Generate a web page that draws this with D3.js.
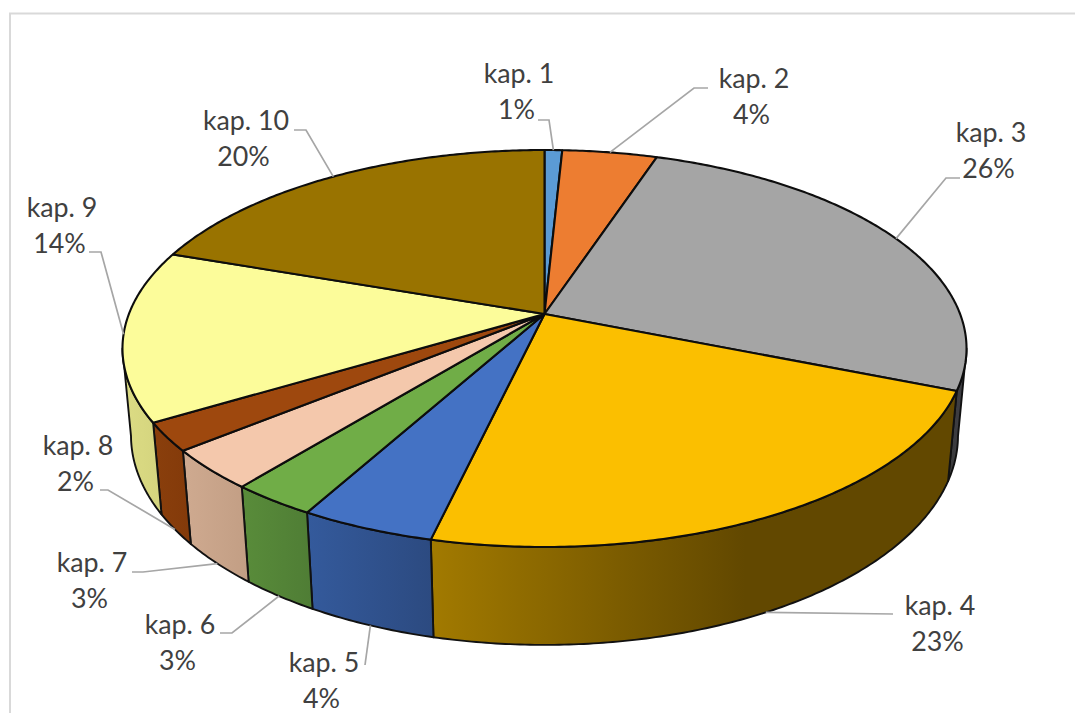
<!DOCTYPE html>
<html>
<head>
<meta charset="utf-8">
<script src="https://cdnjs.cloudflare.com/ajax/libs/d3/7.8.5/d3.min.js"></script>
<style>
html,body{margin:0;padding:0;background:#fff}
svg{display:block}
</style>
</head>
<body>
<svg id="chart" width="1075" height="713"></svg>
<script>
// data
var categories = ['kap. 1','kap. 2','kap. 3','kap. 4','kap. 5','kap. 6','kap. 7','kap. 8','kap. 9','kap. 10'];
var shares = [0.8,4.3,26,22.55,4.4,2.8,3.25,2.3,13.9,19.7];
// colours
var topColors = ['#5b9bd5','#ed7d31','#a5a5a5','#fbbf00','#4472c4','#70ad47','#f4c8ac','#9e480e','#fcfc9a','#997300'];
var sideFrom = ['#3d6c96','#a65722','#3f3f46','#a27a00','#345a9c','#598c3a','#cfaa90','#8a3f0c','#dcdc84','#6b5000'];
var sideTo   = ['#3d6c96','#a65722','#3a3a3a','#624800','#2c4a80','#4f7d35','#c29e84','#833a0a','#d4d47e','#6b5000'];
// label layout: centre x, first baseline, then the two points of the leader next to the text
var labelX = [519,754,991,940,324,180,92,78,62,246];
var labelY = [83,88,142,615,672,634,572,455,217,130];
var leaderA = [[538,120],[708,88],[960,178],[893,614],[365,665],[220,633],[132,572],[100,490],[89,252],[294,130]];
var leaderB = [[549,120],[694,88],[946,178],null,null,[232,633],[143,572],[108,490],[101,252],[306,130]];
var leaderLow = [0,0,0,1,1,1,1,1,0,0]; // leader ends on the lower rim

var svg = d3.select('#chart');
var cx = 544.5, cy = 314, a = 192.5, b = 415.6, k = 0.1738, g = 0.02, e = 87.5;

// perspective of the disc, z=0 top face, z=1 bottom face
function project(t, z){
	var u = Math.sin(t), v = -Math.cos(t);
	var d = 1 - k*v + g*z;
	return [cx + b*u/d, cy + (a*v + e*z)/d];
}
function arcPoints(t0, t1, z){
	var n = Math.max(2, Math.ceil((t1-t0)/0.01));
	return d3.range(n+1).map(function(i){ return project(t0 + (t1-t0)*i/n, z); });
}

var line = d3.line();
var fmt = d3.format('.0f');
var color = d3.scaleOrdinal().domain(categories).range(topColors);
var pie = d3.pie().value(function(d){ return d; }).sort(null);
var slices = pie(shares);

// the visible wall runs between the two silhouette points
var wallStart = Math.acos(-k), wallEnd = 2*Math.PI - wallStart;

// frame
svg.append('path').attr('d','M10,713V13.5H1075').attr('fill','none').attr('stroke','#d9d9d9').attr('stroke-width',2);

var defs = svg.append('defs');
var walls = svg.append('g');
slices.forEach(function(s,i){
	var t0 = Math.max(s.startAngle, wallStart), t1 = Math.min(s.endAngle, wallEnd);
	if(t1 <= t0) return;
	var upper = arcPoints(t0,t1,0), lower = arcPoints(t0,t1,1).reverse();
	var xs = upper.concat(lower).map(function(p){ return p[0]; });
	var grad = defs.append('linearGradient').attr('id','side'+i)
		.attr('gradientUnits','userSpaceOnUse')
		.attr('x1',d3.min(xs)).attr('x2',i==3 ? 745 : d3.max(xs)).attr('y1',0).attr('y2',0);
	grad.append('stop').attr('offset',0).attr('stop-color', i<3 ? sideTo[i] : sideFrom[i]);
	grad.append('stop').attr('offset',1).attr('stop-color', i<3 ? sideFrom[i] : sideTo[i]);
	walls.append('path')
		.attr('d', line(upper.concat(lower)) + 'Z')
		.attr('fill','url(#side'+i+')')
		.attr('stroke','#111').attr('stroke-width',1.9).attr('stroke-linejoin','round');
});

// top face
var faces = svg.append('g');
slices.forEach(function(s,i){
	var pts = [[cx,cy]].concat(arcPoints(s.startAngle,s.endAngle,0));
	faces.append('path')
		.attr('d', line(pts) + 'Z')
		.attr('fill', color(categories[i]))
		.attr('stroke','#0d0d0d').attr('stroke-width',2.1).attr('stroke-linejoin','round');
});

// leaders
var leaders = svg.append('g').attr('fill','none').attr('stroke','#a6a6a6').attr('stroke-width',1.7);
slices.forEach(function(s,i){
	var mid = (s.startAngle+s.endAngle)/2;
	var pts = [leaderA[i]];
	if(leaderB[i]) pts.push(leaderB[i]);
	pts.push(project(mid, leaderLow[i]));
	leaders.append('path').attr('d', line(pts));
});

// labels
var labels = svg.append('g').attr('font-family','Lato, "Open Sans", sans-serif')
	.attr('font-size',26.8).attr('fill','#404040').attr('text-anchor','middle');
categories.forEach(function(c,i){
	labels.append('text').attr('x',labelX[i]).attr('y',labelY[i]).text(c);
	labels.append('text').attr('x',labelX[i]-2.5).attr('y',labelY[i]+36).text(fmt(shares[i])+'%');
});
</script>
</body>
</html>
